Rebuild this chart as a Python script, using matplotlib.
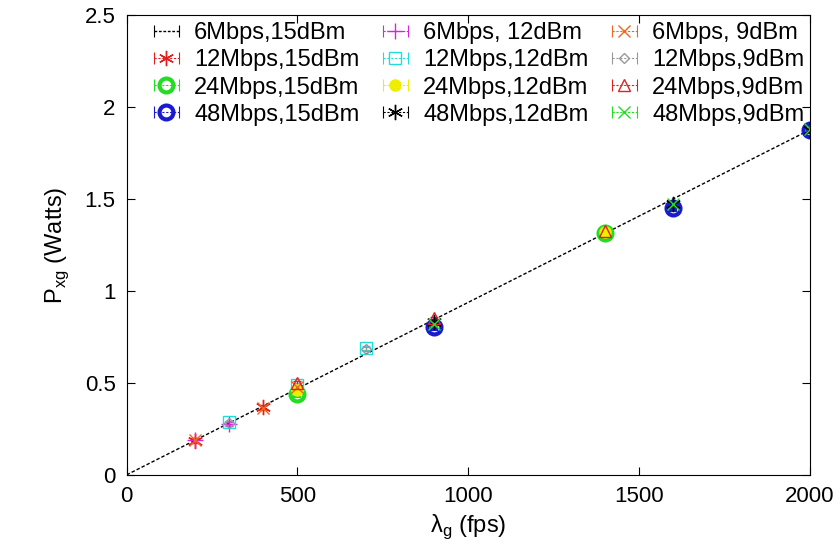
import matplotlib
matplotlib.use("Agg")
import matplotlib.pyplot as plt
from matplotlib.lines import Line2D
from matplotlib.legend_handler import HandlerLine2D, HandlerTuple
from matplotlib.ticker import FuncFormatter

plt.rcParams["font.family"] = ["Liberation Sans", "DejaVu Sans"]
plt.rcParams["font.size"] = 17

# fitted line (6Mbps, 15dBm)
line_x = [0, 2000]
line_y = [0, 1.875]

# measured points per configuration
x_6_12 = [200, 300]
y_6_12 = [0.19, 0.275]
x_6_9 = [200, 400, 500]
y_6_9 = [0.19, 0.365, 0.48]
x_12_15 = [200, 400]
y_12_15 = [0.185, 0.37]
x_12_12 = [300, 500, 700]
y_12_12 = [0.285, 0.49, 0.69]
x_12_9 = [300, 700]
y_12_9 = [0.28, 0.685]
x_24_15 = [500, 1400]
y_24_15 = [0.44, 1.315]
x_24_12 = [500, 1400]
y_24_12 = [0.46, 1.32]
x_24_9 = [500, 900, 1400]
y_24_9 = [0.5, 0.85, 1.325]
x_48_15 = [900, 1600, 2000]
y_48_15 = [0.805, 1.45, 1.875]
x_48_12 = [900, 1600, 2000]
y_48_12 = [0.83, 1.475, 1.875]
x_48_9 = [900, 1600, 2000]
y_48_9 = [0.82, 1.47, 1.88]

fig = plt.figure(figsize=(8.39, 5.56), dpi=100)
ax = fig.add_axes([0.151, 0.146, 0.814, 0.827])

err = 0.01
ekw = dict(capsize=3, elinewidth=0.8, capthick=0.8, linestyle="none")

ax.plot(line_x, line_y, "k--", lw=1, dashes=(2.5, 1.5))

hmap = {}


def pts(x, y, color, **kw):
    ax.errorbar(x, y, yerr=[err] * len(x), color=color, **ekw, **kw)
    # gnuplot style key sample: |--marker--|
    caps = Line2D([], [], color=color, lw=0.8, ls=(0, (2, 1.5)), marker="|", ms=8, mew=0.8)
    mark = Line2D([], [], color=color, ls="none", **kw)
    hmap[caps] = HandlerLine2D(numpoints=2, marker_pad=0)
    return (caps, mark)


def key_line():
    caps = Line2D([], [], color="black", lw=1, ls=(0, (2, 1.2)),
                  marker="|", ms=8, mew=0.8)
    hmap[caps] = HandlerLine2D(numpoints=2, marker_pad=0)
    return (caps,)


h_6_15 = key_line()
h_12_15 = pts(x_12_15, y_12_15, "#e02020", marker=(6, 2, 0), ms=11, mew=1)
h_24_15 = pts(x_24_15, y_24_15, "#22dd22", marker="o", ms=10, mfc="none", mew=3)
h_48_15 = pts(x_48_15, y_48_15, "#1a1ad0", marker="o", ms=10, mfc="none", mew=3)
h_6_12 = pts(x_6_12, y_6_12, "#e020e0", marker="+", ms=11, mew=1)
h_12_12 = pts(x_12_12, y_12_12, "#20dddd", marker="s", ms=9, mfc="none", mew=1)
h_24_12 = pts(x_24_12, y_24_12, "#eeee00", marker="o", ms=8, mew=1)
h_48_12 = pts(x_48_12, y_48_12, "black", marker=(6, 2, 0), ms=11, mew=1)
h_6_9 = pts(x_6_9, y_6_9, "#ee6622", marker="x", ms=9, mew=1)
h_12_9 = pts(x_12_9, y_12_9, "#999999", marker="D", ms=5, mfc="none", mew=1)
h_24_9 = pts(x_24_9, y_24_9, "#dd2222", marker="^", ms=8, mfc="none", mew=1)
h_48_9 = pts(x_48_9, y_48_9, "#22dd22", marker="x", ms=9, mew=1)

handles = [h_6_15, h_12_15, h_24_15, h_48_15,
           h_6_12, h_12_12, h_24_12, h_48_12,
           h_6_9, h_12_9, h_24_9, h_48_9]
labels = ["6Mbps,15dBm", "12Mbps,15dBm", "24Mbps,15dBm", "48Mbps,15dBm",
          "6Mbps, 12dBm", "12Mbps,12dBm", "24Mbps,12dBm", "48Mbps,12dBm",
          "6Mbps, 9dBm", "12Mbps,9dBm", "24Mbps,9dBm", "48Mbps,9dBm"]
hmap[tuple] = HandlerTuple(ndivide=1, pad=0)
ax.legend(handles, labels, ncol=3, loc="upper left", frameon=False,
          bbox_to_anchor=(0.026, 1.005), handlelength=1.06, handletextpad=0.64,
          columnspacing=1.0, labelspacing=0.22, borderaxespad=0.0,
          fontsize=17, handler_map=hmap)

ax.set_xlim(0, 2000)
ax.set_ylim(0, 2.5)
ax.set_xticks([0, 500, 1000, 1500, 2000])
ax.set_yticks([0, 0.5, 1, 1.5, 2, 2.5])
ax.yaxis.set_major_formatter(FuncFormatter(lambda v, p: f"{v:g}"))
ax.tick_params(direction="in", top=True, right=True, length=6, pad=8, labelsize=16)
ax.set_xlabel("λ$_{\\mathregular{g}}$ (fps)", fontsize=17)
ax.set_ylabel("P$_{\\mathregular{xg}}$ (Watts)", fontsize=17)
ax.xaxis.labelpad = 4
ax.yaxis.labelpad = 10

fig.savefig("out.png", dpi=100)
